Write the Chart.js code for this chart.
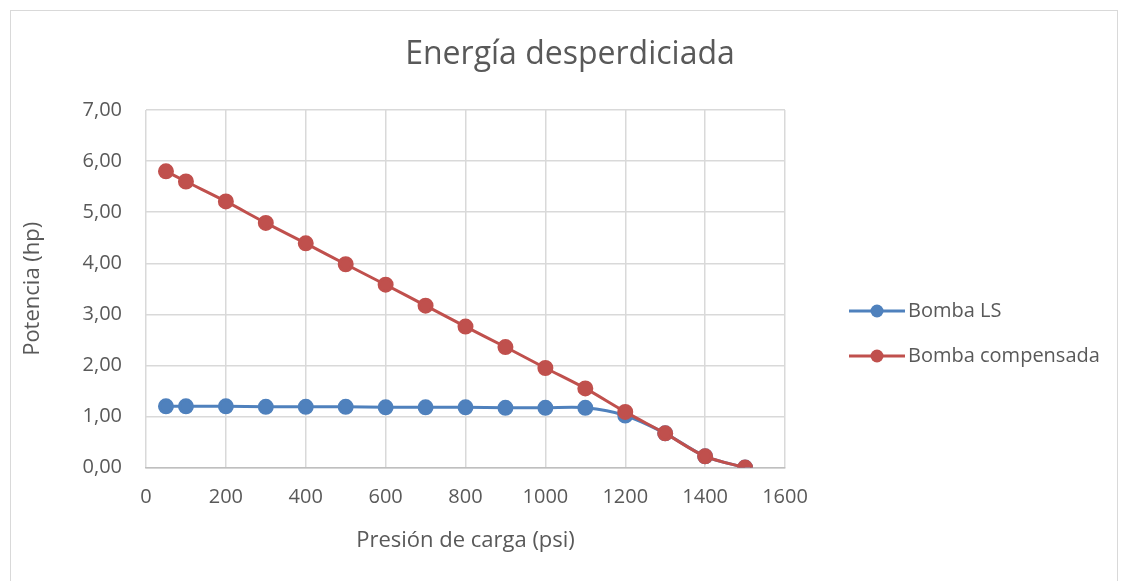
<!DOCTYPE html>
<html>
<head>
<meta charset="utf-8">
<script src="https://cdn.jsdelivr.net/npm/chart.js@4"></script>
<style>
    html, body { margin: 0; padding: 0; background: #fff; }
    #frame { position: absolute; left: 10px; top: 10px; width: 1108px; height: 580px; border: 1px solid #d9d9d9; box-sizing: border-box; }
    #wrap { position: absolute; left: 0; top: 0; width: 1128px; height: 581px; }
</style>
</head>
<body>
<div id="frame"></div>
<div id="wrap"><canvas id="myChart" width="1128" height="581"></canvas></div>
<script>
const chartTitle = 'Energía desperdiciada';
const presion = [50, 100, 200, 300, 400, 500, 600, 700, 800, 900, 1000, 1100, 1200, 1300, 1400, 1500];
const bombaLS = [1.20, 1.20, 1.20, 1.19, 1.19, 1.19, 1.18, 1.18, 1.18, 1.17, 1.17, 1.17, 1.02, 0.67, 0.22, 0.00];
const bombaCompensada = [5.80, 5.60, 5.21, 4.79, 4.39, 3.98, 3.58, 3.17, 2.76, 2.36, 1.95, 1.55, 1.09, 0.67, 0.22, 0.00];

const toPoints = (xs, ys) => xs.map((x, i) => ({ x: x, y: ys[i] }));

const fontFamily = '"Open Sans", sans-serif';
const gray = '#595959';

// title centred on the whole frame, legend on the right (line + marker, Excel style)
const sideDecor = {
    id: 'sideDecor',
    afterDraw: chart => {
        const g = chart.ctx;
        g.save();
        g.fillStyle = gray;
        g.font = '32px ' + fontFamily;
        g.textAlign = 'center';
        g.textBaseline = 'middle';
        g.fillText(chartTitle, 570, 55);

        const x0 = 849, xText = 908;
        const rows = [311, 356];
        chart.data.datasets.forEach((ds, i) => {
            const y = rows[i];
            g.strokeStyle = ds.borderColor;
            g.lineWidth = 3;
            g.beginPath(); g.moveTo(x0, y); g.lineTo(xText - 3, y); g.stroke();
            g.fillStyle = ds.borderColor;
            g.beginPath(); g.arc((x0 + xText - 3) / 2, y, 6.5, 0, Math.PI * 2); g.fill();
            g.fillStyle = gray;
            g.font = '20px ' + fontFamily;
            g.textAlign = 'left';
            g.fillText(ds.label, xText, y);
        });
        g.restore();
    }
};

const ctx = document.getElementById('myChart');

new Chart(ctx, {
    type: 'line',
    data: {
        datasets: [{
            label: 'Bomba LS',
            data: toPoints(presion, bombaLS),
            borderColor: '#4f81bd',
            backgroundColor: '#4f81bd',
            borderWidth: 3,
            pointRadius: 6.5,
            pointHoverRadius: 6.5,
            tension: 0.3,
            order: 1
        }, {
            label: 'Bomba compensada',
            data: toPoints(presion, bombaCompensada),
            borderColor: '#c0504d',
            backgroundColor: '#c0504d',
            borderWidth: 3,
            pointRadius: 6.5,
            pointHoverRadius: 6.5,
            tension: 0.3,
            order: 0
        }]
    },
    plugins: [sideDecor],
    options: {
        responsive: false,
        animation: false,
        layout: { padding: { left: 20, right: 343, top: 110, bottom: 27 } },
        plugins: {
            title: { display: false },
            legend: { display: false },
            tooltip: { enabled: false }
        },
        scales: {
            x: {
                type: 'linear',
                min: 0,
                max: 1600,
                ticks: {
                    stepSize: 200,
                    color: gray,
                    font: { family: fontFamily, size: 20 },
                    padding: 18,
                    callback: v => String(v)
                },
                grid: { color: '#d9d9d9', lineWidth: 1.5, drawTicks: false },
                border: { color: '#bfbfbf', width: 1.5 },
                title: { display: true, text: 'Presión de carga (psi)', color: gray, font: { family: fontFamily, size: 22 }, padding: { top: 0, bottom: 0 } }
            },
            y: {
                min: 0,
                max: 7,
                ticks: {
                    stepSize: 1,
                    color: gray,
                    font: { family: fontFamily, size: 20 },
                    padding: 24,
                    callback: v => v.toFixed(2).replace('.', ',')
                },
                grid: { color: '#d9d9d9', lineWidth: 1.5, drawTicks: false },
                border: { display: false },
                title: { display: true, text: 'Potencia (hp)', color: gray, font: { family: fontFamily, size: 22 }, padding: { top: 0, bottom: 0 } },
                afterFit: scale => { scale.width = 126; }
            }
        }
    }
});
</script>
</body>
</html>
